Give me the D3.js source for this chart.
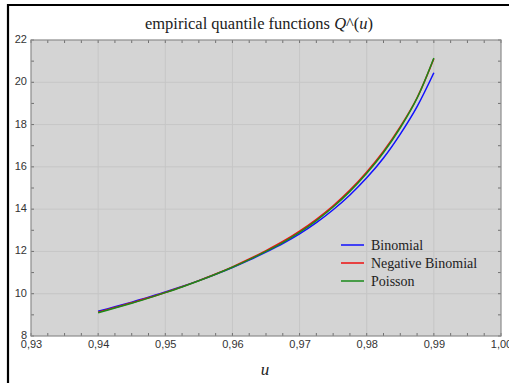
<!DOCTYPE html>
<html><head><meta charset="utf-8">
<script src="https://cdn.jsdelivr.net/npm/d3@7"></script>
<style>
html,body{margin:0;padding:0;background:#fff;}
svg{display:block;}
</style></head>
<body>
<svg id="chart" width="509" height="383"></svg>
<script>
const uValues   = [0.94,0.9425,0.945,0.9475,0.95,0.9525,0.955,0.9575,0.96,0.9625,0.965,0.9675,0.97,0.9725,0.975,0.9775,0.98,0.9825,0.985,0.9875,0.99];
const binomial  = [9.17,9.38,9.60,9.83,10.08,10.34,10.62,10.92,11.24,11.59,11.97,12.37,12.83,13.36,13.97,14.67,15.48,16.42,17.55,18.85,20.45];
const negBinomial=[9.13,9.35,9.57,9.81,10.06,10.33,10.62,10.93,11.27,11.64,12.04,12.47,12.96,13.52,14.16,14.90,15.76,16.74,17.90,19.27,21.12];
const poisson   = [9.10,9.32,9.55,9.79,10.05,10.32,10.61,10.92,11.25,11.61,12.00,12.42,12.90,13.46,14.10,14.84,15.70,16.68,17.85,19.25,21.15];
const seriesNames = ["Binomial","Negative Binomial","Poisson"];
const seriesColors = ["#1010ff","#ee1010","#1a8a1a"];
const xTicks = [0.93,0.94,0.95,0.96,0.97,0.98,0.99,1.00];
const xTickLabels = ["0,93","0,94","0,95","0,96","0,97","0,98","0,99","1,00"];
const yTicks = [8,10,12,14,16,18,20,22];
const titleText = "empirical quantile functions ";

const svg = d3.select("#chart");
const L=31,R=501,T=40,B=336;
const x = d3.scaleLinear().domain([0.93,1.0]).range([L,R]);
const y = d3.scaleLinear().domain([8,22]).range([B,T]);

// outer black frame lines
svg.append("line").attr("x1",7).attr("x2",509).attr("y1",5).attr("y2",5).attr("stroke","#000").attr("stroke-width",2.2);
svg.append("line").attr("x1",8).attr("x2",8).attr("y1",4).attr("y2",383).attr("stroke","#000").attr("stroke-width",2.2);

// plot background
svg.append("rect").attr("x",L).attr("y",T).attr("width",R-L).attr("height",B-T).attr("fill","#d4d4d4");

// grid
const g = svg.append("g");
g.selectAll(".gx").data(xTicks.slice(1,-1)).enter().append("line")
  .attr("x1",d=>x(d)).attr("x2",d=>x(d)).attr("y1",T).attr("y2",B)
  .attr("stroke","#c6c6c6").attr("stroke-width",1);
g.selectAll(".gy").data(yTicks.slice(1,-1)).enter().append("line")
  .attr("x1",L).attr("x2",R).attr("y1",d=>y(d)).attr("y2",d=>y(d))
  .attr("stroke","#c6c6c6").attr("stroke-width",1);

// minor/major ticks inward
const xMinor = d3.range(0,29).map(i=>0.93+i*0.0025);
const yMinor = d3.range(8,23,1);
const tk = svg.append("g").attr("stroke","#707070").attr("stroke-width",1);
xMinor.forEach(v=>{
  tk.append("line").attr("x1",x(v)).attr("x2",x(v)).attr("y1",B).attr("y2",B-3);
  tk.append("line").attr("x1",x(v)).attr("x2",x(v)).attr("y1",T).attr("y2",T+3);
});
yMinor.forEach(v=>{
  tk.append("line").attr("x1",L).attr("x2",L+3).attr("y1",y(v)).attr("y2",y(v));
  tk.append("line").attr("x1",R).attr("x2",R-3).attr("y1",y(v)).attr("y2",y(v));
});

// frame
svg.append("rect").attr("x",L).attr("y",T).attr("width",R-L).attr("height",B-T)
  .attr("fill","none").attr("stroke","#8c8c8c").attr("stroke-width",1.2);

// axes labels
const xAxis = d3.axisBottom(x).tickValues(xTicks).tickSize(0).tickPadding(4)
  .tickFormat((d,i)=>xTickLabels[i]);
const xa = svg.append("g").attr("transform",`translate(0,${B})`).call(xAxis);
xa.select(".domain").remove();
xa.selectAll("text").attr("font-family","Liberation Sans, Arial, sans-serif").attr("font-size",11).attr("fill","#333");

const yAxis = d3.axisLeft(y).tickValues(yTicks).tickSize(0).tickPadding(4).tickFormat(d3.format("d"));
const ya = svg.append("g").attr("transform",`translate(${L},-1)`).call(yAxis);
ya.select(".domain").remove();
ya.selectAll("text").attr("font-family","Liberation Sans, Arial, sans-serif").attr("font-size",11).attr("fill","#333");

// lines
const allSeries = [binomial, negBinomial, poisson];
const line = d3.line().x((d,i)=>x(uValues[i])).y(d=>y(d)).curve(d3.curveCatmullRom.alpha(0.5));
allSeries.forEach((s,k)=>{
  svg.append("path").datum(s).attr("d",line).attr("fill","none")
    .attr("stroke",seriesColors[k]).attr("stroke-width",1.5);
});

// legend
const lg = svg.append("g");
seriesNames.forEach((n,k)=>{
  const yy = 245 + k*18;
  lg.append("line").attr("x1",341).attr("x2",364).attr("y1",yy).attr("y2",yy)
    .attr("stroke",seriesColors[k]).attr("stroke-width",1.5);
  lg.append("text").attr("x",371).attr("y",yy+4.5).text(n)
    .attr("font-family","Liberation Serif, Times New Roman, serif").attr("font-size",14).attr("fill","#222");
});

// title
const tt = svg.append("text").attr("x",259).attr("y",29).attr("text-anchor","middle")
  .attr("font-family","Liberation Serif, Times New Roman, serif").attr("font-size",16.5).attr("fill","#222");
tt.append("tspan").text(titleText);
tt.append("tspan").attr("font-style","italic").text("Q");
tt.append("tspan").text("^(");
tt.append("tspan").attr("font-style","italic").text("u");
tt.append("tspan").text(")");

// x axis title
svg.append("text").attr("x",265).attr("y",375).attr("text-anchor","middle")
  .attr("font-family","Liberation Serif, Times New Roman, serif").attr("font-style","italic")
  .attr("font-size",17).attr("fill","#222").text("u");
</script>
</body></html>
